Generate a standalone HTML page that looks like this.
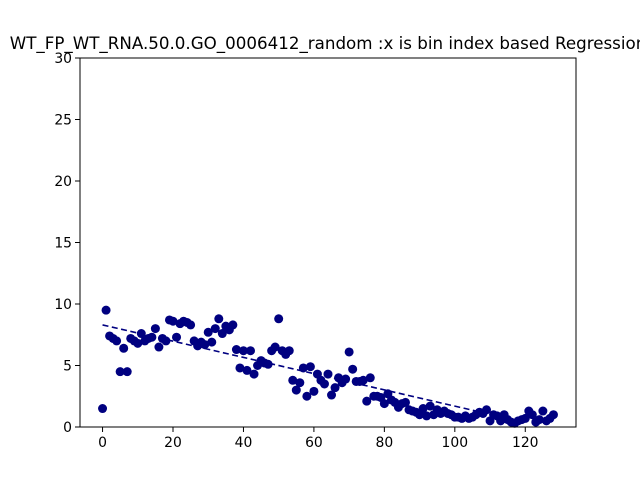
<!DOCTYPE html>
<html><head><meta charset="utf-8"><style>body{margin:0;background:#fff}svg{display:block}</style></head>
<body>
<svg id="chart" width="640" height="480" xmlns="http://www.w3.org/2000/svg">
<rect width="640" height="480" fill="#fff"/>
<text x="328" y="49" text-anchor="middle" font-family="DejaVu Sans, Liberation Sans, sans-serif" font-size="16.7">WT_FP_WT_RNA.50.0.GO_0006412_random :x is bin index based Regression</text>
<g id="marks"></g>
<g id="axes"></g>
</svg>
<script>
const yValues = [1.5,9.5,7.4,7.2,7.0,4.5,6.4,4.5,7.2,7.0,6.8,7.6,7.0,7.2,7.3,8.0,6.5,7.2,7.0,8.7,8.6,7.3,8.4,8.6,8.5,8.3,7.0,6.6,6.9,6.7,7.7,6.9,8.0,8.8,7.6,8.2,7.9,8.3,6.3,4.8,6.2,4.6,6.2,4.3,5.0,5.4,5.2,5.1,6.2,6.5,8.8,6.2,5.9,6.2,3.8,3.0,3.6,4.8,2.5,4.9,2.9,4.3,3.8,3.5,4.3,2.6,3.2,4.0,3.6,3.9,6.1,4.7,3.7,3.7,3.8,2.1,4.0,2.5,2.5,2.4,1.9,2.7,2.2,2.0,1.6,1.9,2.0,1.4,1.3,1.2,1.0,1.5,0.9,1.7,1.0,1.4,1.1,1.3,1.1,1.0,0.8,0.8,0.7,0.9,0.7,0.8,1.0,1.2,1.1,1.4,0.5,1.0,0.9,0.5,1.0,0.6,0.4,0.3,0.5,0.6,0.7,1.3,1.0,0.4,0.6,1.3,0.5,0.7,1.0];
const fitStart = [0, 8.3];
const fitEnd = [106, 1.3];
const xTicks = [0,20,40,60,80,100,120];
const yTicks = [0,5,10,15,20,25,30];

const L=80,R=576,T=58,B=427;
const xMin=-6.4,xMax=134.4,yMin=0,yMax=30;
const sx=v=>L+(v-xMin)/(xMax-xMin)*(R-L);
const sy=v=>B-(v-yMin)/(yMax-yMin)*(B-T);
const NS='http://www.w3.org/2000/svg';
const marks=document.getElementById('marks'), axes=document.getElementById('axes');
function mk(tag,attrs,parent){const e=document.createElementNS(NS,tag);for(const k in attrs)e.setAttribute(k,attrs[k]);parent.appendChild(e);return e;}

yValues.forEach((v,i)=>{
  const c=mk('circle',{cx:sx(i),cy:sy(v),r:4.5,fill:'#000080'},marks);
  
  
});
const fl=mk('line',{x1:sx(fitStart[0]),y1:sy(fitStart[1]),x2:sx(fitEnd[0]),y2:sy(fitEnd[1]),stroke:'#000080','stroke-width':1.6,'stroke-dasharray':'6,3.5'},marks);



const frame=mk('rect',{x:L,y:T,width:R-L,height:B-T,fill:'none',stroke:'#000','stroke-width':1},axes);


xTicks.forEach(t=>{
  const x=sx(t);
  mk('line',{x1:x,y1:B,x2:x,y2:B+5,stroke:'#000'},axes);
  const tx=mk('text',{x:x,y:B+20,'text-anchor':'middle','font-family':'DejaVu Sans, Liberation Sans, sans-serif','font-size':13.9},axes);
  tx.textContent=t;
  
  
});
yTicks.forEach(t=>{
  const y=sy(t);
  mk('line',{x1:L-5,y1:y,x2:L,y2:y,stroke:'#000'},axes);
  const tx=mk('text',{x:L-8,y:y+5,'text-anchor':'end','font-family':'DejaVu Sans, Liberation Sans, sans-serif','font-size':13.9},axes);
  tx.textContent=t;
  
  
});
</script>
</body></html>
